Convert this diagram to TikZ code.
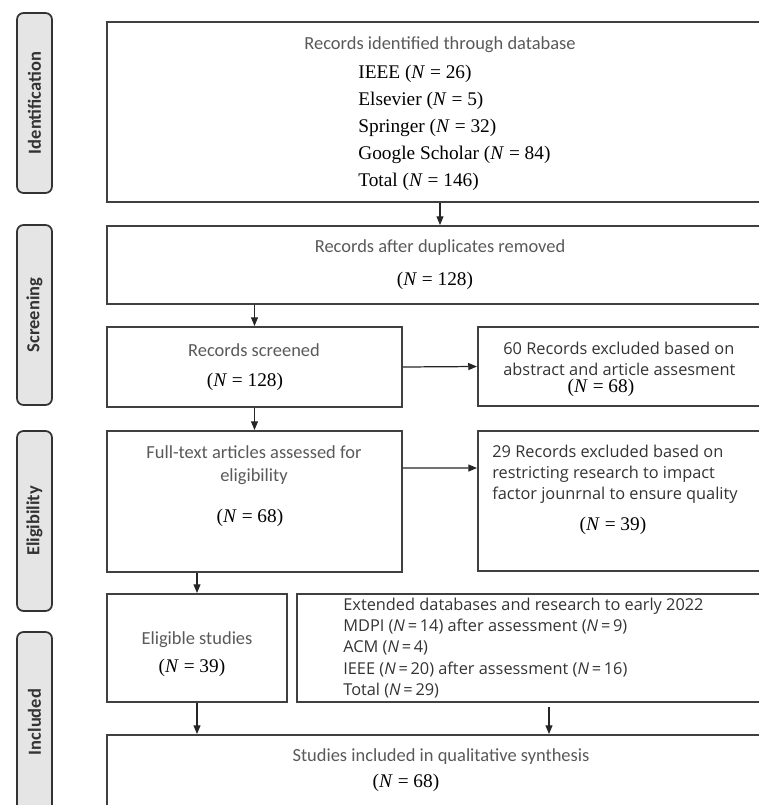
\documentclass[tikz,border=0pt]{standalone}
\usepackage{fontspec}
\usetikzlibrary{fit,arrows.meta}
\newfontfamily\calfont{Carlito}
\newfontfamily\segfont{Open Sans}
\newfontfamily\serfont{Liberation Serif}
\newcommand\serN[1]{{\serfont(\textit{N} = #1)}}
\newcommand\segN[1]{(\textit{N}\,=\,#1)}

\begin{document}
\begin{tikzpicture}[x=0.02cm,y=-0.02cm]
        \tikzstyle{frame}=[draw=black!75,line width=1.1pt,inner sep=0pt]
        \tikzstyle{phase}=[draw=black!80,fill=black!10,line width=1pt,rounded corners=0.13cm,rotate=90,minimum width=3.6cm,minimum height=0.7cm,font=\calfont\bfseries\fontsize{10.5}{12}\selectfont,text=black!80]
        \tikzstyle{cal}=[font=\calfont\fontsize{10.5}{13}\selectfont,text=black!65,inner sep=0pt]
        \tikzstyle{seg}=[font=\segfont\fontsize{9.3}{12}\selectfont,text=black!80,align=left,inner sep=0pt]
        \tikzstyle{ser}=[font=\serfont\fontsize{11}{15.3}\selectfont,inner sep=0pt]
        \tikzstyle{arr}=[-{Triangle[length=5pt,width=4pt]},line width=0.7pt,black!85]
        \useasboundingbox (0,0) rectangle (759,805);
        \clip (0,0) rectangle (759,805);
        % phases
        \node[phase] (pid) at (34.5,103) {Identification};
        \node[phase] (psc) at (34.5,315) {Screening};
        \node[phase] (pel) at (34.5,521) {Eligibility};
        \node[phase] (pin) at (34.5,722) {Included};
        % boxes
        \node[frame,fit={(107,22) (773,202)}] (ident) {};
        \node[frame,fit={(107,226) (773,304)}] (dup) {};
        \node[frame,fit={(107,327) (402,407)}] (scr) {};
        \node[frame,fit={(478,327) (773,406)}] (exa) {};
        \node[frame,fit={(107,431) (402,572)}] (full) {};
        \node[frame,fit={(478,431) (773,571)}] (exb) {};
        \node[frame,fit={(107,594) (287,702)}] (elig) {};
        \node[frame,fit={(297,594) (773,702)}] (ext) {};
        \node[frame,fit={(107,735) (773,830)}] (incl) {};
        % texts
        \node[cal] (idhead) at (440,45) {Records identified through database};
        \node[ser,anchor=west,align=left] (idlist) at (358,128) {IEEE \serN{26}\\Elsevier \serN{5}\\Springer \serN{32}\\Google Scholar \serN{84}\\Total \serN{146}};
        \node[cal] (duphead) at (440,248) {Records after duplicates removed};
        \node[ser] (dupn) at (435,281) {\serN{128}};
        \node[cal] (scrhead) at (254,350) {Records screened};
        \node[ser] (scrn) at (245,382) {\serN{128}};
        \node[seg,anchor=west] (exahead) at (503,359) {60 Records excluded based on\\abstract and article assesment};
        \node[ser] (exan) at (601,388) {\serN{68}};
        \node[cal,align=center] (fullhead) at (254,465) {Full-text articles assessed for\\eligibility};
        \node[ser] (fulln) at (250,518) {\serN{68}};
        \node[seg,anchor=west] (exbhead) at (492,474) {29 Records excluded based on\\restricting research to impact\\factor jounrnal to ensure quality};
        \node[ser] (exbn) at (613,526) {\serN{39}};
        \node[cal] (elighead) at (197,640) {Eligible studies};
        \node[ser] (eligN) at (192,668) {\serN{39}};
        \node[seg,anchor=west] (exthead) at (343,648) {Extended databases and research to early 2022\\MDPI \segN{14} after assessment \segN{9}\\ACM \segN{4}\\IEEE \segN{20} after assessment \segN{16}\\Total \segN{29}};
        \node[cal] (inclhead) at (441,757) {Studies included in qualitative synthesis};
        \node[ser] (incln) at (406,783) {\serN{68}};
        % arrows
        \draw[arr] (ident.south) -- (dup.north);
        \draw[arr] (dup.south -| scr.north) -- (scr.north);
        \draw[arr] (scr.east) -- (exa.west);
        \draw[arr] (scr.south) -- (full.north);
        \draw[arr] ([yshift=-0.76cm]full.north east) -- ([yshift=-0.76cm]exb.north west);
        \draw[arr] (full.south -| elig.north) -- (elig.north);
        \draw[arr] (elig.south) -- (elig.south |- incl.north);
        \draw[arr] ([xshift=0.28cm,yshift=-0.08cm]ext.south) -- ([xshift=0.28cm]ext.south |- incl.north);
\end{tikzpicture}
\end{document}
